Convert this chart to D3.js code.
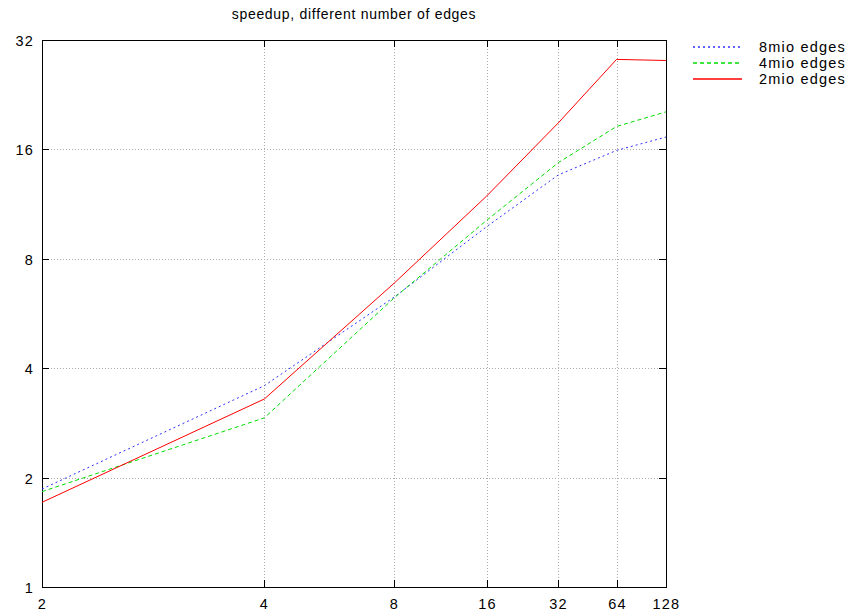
<!DOCTYPE html>
<html>
<head>
<meta charset="utf-8">
<script src="https://cdn.jsdelivr.net/npm/d3@7"></script>
<style>
  body { margin: 0; background: #fff; }
  text { font-family: "Liberation Sans", Arial, sans-serif; font-size: 14.5px; letter-spacing: 1.2px; fill: #000; }
  .title { font-size: 14px; letter-spacing: 0.7px; }
</style>
</head>
<body>
<svg></svg>
<script>
// processors (x) and speedup per graph size (y)
let procs = [2, 4, 8, 16, 32, 64, 128]
let edges8 = [1.86, 3.58, 6.28, 9.8, 13.6, 15.9, 17.3]
let edges4 = [1.83, 2.92, 6.25, 10.2, 14.7, 18.5, 20.3]
let edges2 = [1.71, 3.29, 6.86, 11.9, 18.9, 28.3, 28.1]
let yTicks = [1, 2, 4, 8, 16, 32]
let seriesNames = ['8mio edges', '4mio edges', '2mio edges']
let seriesColors = ['#3030ff', '#00dd00', 'red']
let seriesDash = ['2,3', '4,3', null]

let svg = d3.select('svg').attr('width', 848).attr('height', 612)

let pLeft = 42, pRight = 666, pTop = 40, pBottom = 587

// x is plotted as log2(procs) on a log axis
let x = d3.scaleLog().domain([1, 7]).range([pLeft, pRight])
let y = d3.scaleLog().base(2).domain([1, 32]).range([pBottom, pTop])
let xp = function(d) { return x(Math.log2(d)) }

// grid
svg.selectAll('.gx')
  .data(procs.slice(1, -1))
  .enter().append('line')
  .attr('x1', d => Math.round(xp(d)) + 0.5).attr('x2', d => Math.round(xp(d)) + 0.5)
  .attr('y1', pTop).attr('y2', pBottom)
  .attr('stroke', '#aaa').attr('stroke-dasharray', '1,2')
svg.selectAll('.gy')
  .data(yTicks.slice(1, -1))
  .enter().append('line')
  .attr('x1', pLeft).attr('x2', pRight)
  .attr('y1', d => Math.round(y(d)) + 0.5).attr('y2', d => Math.round(y(d)) + 0.5)
  .attr('stroke', '#aaa').attr('stroke-dasharray', '1,2')

// ticks (inside, mirrored)
yTicks.forEach(function(d) {
  let yy = Math.round(y(d)) + 0.5
  svg.append('line').attr('x1', pLeft).attr('x2', pLeft + 7).attr('y1', yy).attr('y2', yy).attr('stroke', 'black')
  svg.append('line').attr('x1', pRight - 7).attr('x2', pRight).attr('y1', yy).attr('y2', yy).attr('stroke', 'black')
  svg.append('text').attr('x', pLeft - 8).attr('y', yy + 5).attr('text-anchor', 'end').text(d)
})
procs.forEach(function(d) {
  let xx = Math.round(xp(d)) + 0.5
  svg.append('line').attr('x1', xx).attr('x2', xx).attr('y1', pBottom).attr('y2', pBottom - 7).attr('stroke', 'black')
  svg.append('line').attr('x1', xx).attr('x2', xx).attr('y1', pTop).attr('y2', pTop + 7).attr('stroke', 'black')
  svg.append('text').attr('x', xx).attr('y', 609).attr('text-anchor', 'middle').text(d)
})

// frame
svg.append('rect')
  .attr('x', pLeft + 0.5).attr('y', pTop + 0.5)
  .attr('width', pRight - pLeft).attr('height', pBottom - pTop)
  .attr('fill', 'none').attr('stroke', 'black')

// title
svg.append('text').attr('class', 'title')
  .attr('x', (pLeft + pRight) / 2).attr('y', 19)
  .attr('text-anchor', 'middle').text('speedup, different number of edges')

// lines
let lineGen = d3.line()
  .x((d, i) => xp(procs[i]))
  .y(d => y(d))

let allSeries = [edges8, edges4, edges2]
allSeries.forEach(function(s, k) {
  svg.append('path')
    .attr('d', lineGen(s))
    .attr('fill', 'none')
    .attr('stroke', seriesColors[k])
    .attr('stroke-width', 1)
    .attr('stroke-dasharray', seriesDash[k])
})

// legend
seriesNames.forEach(function(name, k) {
  let ly = 47 + k * 16
  svg.append('line')
    .attr('x1', 693).attr('x2', 742).attr('y1', ly).attr('y2', ly)
    .attr('stroke', seriesColors[k])
    .attr('stroke-width', 1.3)
    .attr('stroke-dasharray', seriesDash[k])
  svg.append('text').attr('x', 846).attr('y', ly + 5)
    .attr('text-anchor', 'end').text(name)
})
</script>
</body>
</html>
